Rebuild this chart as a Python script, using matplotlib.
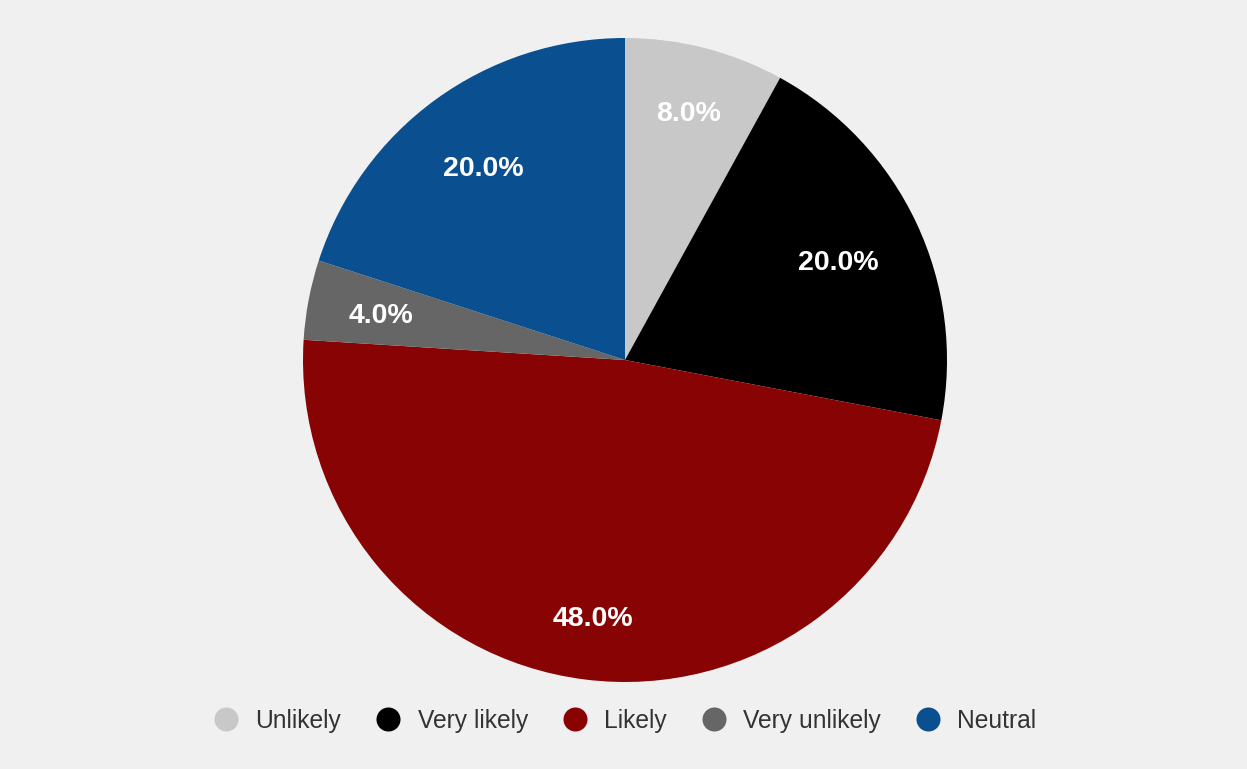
import numpy as np
import matplotlib
matplotlib.use("Agg")
import matplotlib.pyplot as plt
from matplotlib.lines import Line2D

plt.rcParams['font.family'] = ['Liberation Sans', 'DejaVu Sans']

categories = ["Unlikely", "Very likely", "Likely", "Very unlikely", "Neutral"]
shares = [8.0, 20.0, 48.0, 4.0, 20.0]
colors = ["#c8c8c8", "#000000", "#880404", "#666666", "#0a4f8f"]

# radial position of each percentage label, as a fraction of the radius
label_radius = [0.799, 0.731, 0.802, 0.772, 0.746]

W, H = 1247, 769
fig = plt.figure(figsize=(W / 100, H / 100), dpi=100)
fig.patch.set_facecolor("#f0f0f0")
ax = fig.add_axes([0, 0, 1, 1])
ax.set_facecolor("#f0f0f0")

cx, cy, r = 625, H - 360, 322
wedges, texts, autotexts = ax.pie(
    shares,
    colors=colors,
    startangle=90,
    counterclock=False,
    center=(cx, cy),
    radius=r,
    autopct="%.1f%%",
    pctdistance=0.8,
    frame=True,
    wedgeprops=dict(linewidth=0),
    textprops=dict(color="white", fontsize=20.5, fontweight="bold"),
)
for w, t, f in zip(wedges, autotexts, label_radius):
    mid = np.deg2rad((w.theta1 + w.theta2) / 2)
    t.set_position((cx + f * r * np.cos(mid), cy + f * r * np.sin(mid)))
    t.set_verticalalignment("center_baseline")

ax.set_xlim(0, W)
ax.set_ylim(0, H)
ax.set_aspect("equal")
ax.axis("off")

handles = [
    Line2D([], [], linestyle="none", marker="o", markersize=17.3,
           markerfacecolor=c, markeredgewidth=0)
    for c in colors
]
fig.legend(
    handles, categories,
    loc="center", bbox_to_anchor=(625 / W, 1 - 721 / H),
    ncol=5, frameon=False, fontsize=17.7,
    handlelength=1.0, handletextpad=0.70, columnspacing=1.40,
    labelcolor="#333333",
)

fig.savefig("out.png", dpi=100, facecolor=fig.get_facecolor())
